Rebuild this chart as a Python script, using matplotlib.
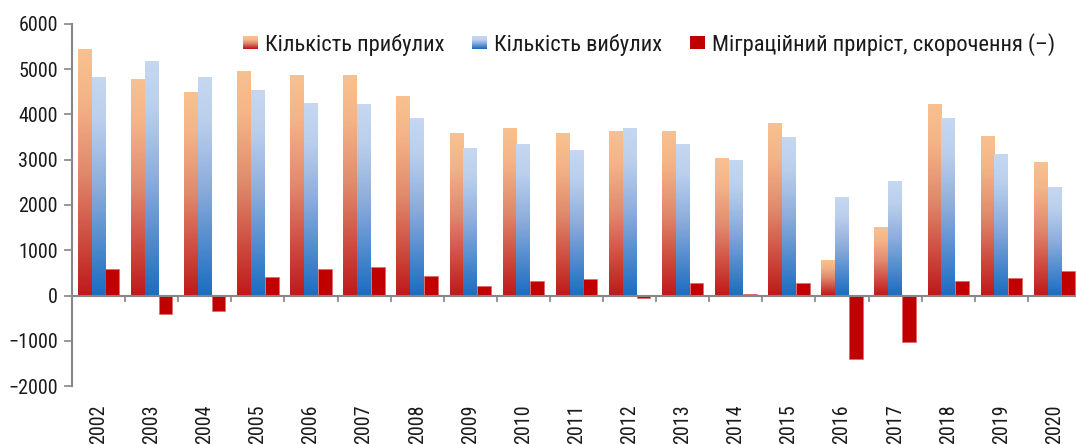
import matplotlib
matplotlib.use("Agg")
import matplotlib.pyplot as plt
import numpy as np
from matplotlib.colors import LinearSegmentedColormap
from matplotlib.legend_handler import HandlerBase
from matplotlib.patches import Rectangle, Patch

plt.rcParams['font.family'] = ['Liberation Sans Narrow', 'Arial Narrow',
                               'Roboto Condensed', 'PT Sans Narrow', 'DejaVu Sans']

# ***** Data *****
years = [str(y) for y in range(2002, 2021)]
arrivals = [5420, 4760, 4470, 4930, 4840, 4840, 4380, 3560, 3670, 3580,
            3620, 3620, 3020, 3800, 760, 1490, 4200, 3510, 2930]
departures = [4800, 5160, 4800, 4510, 4240, 4200, 3890, 3240, 3330, 3200,
              3670, 3330, 2980, 3470, 2160, 2510, 3890, 3110, 2380]
migration = [580, -400, -340, 410, 580, 620, 440, 220, 310, 360,
             -50, 270, 40, 270, -1400, -1020, 310, 380, 540]
labels = ["Кількість прибулих", "Кількість вибулих",
          "Міграційний приріст, скорочення (–)"]
y_ticks = [-2000, -1000, 0, 1000, 2000, 3000, 4000, 5000, 6000]

# gradient colour maps (0 = bottom, 1 = top)
cmap_arr = LinearSegmentedColormap.from_list(
    "arr", [(0.0, "#BE1A1B"), (0.5, "#E08A6C"), (0.8, "#F4B487"), (1.0, "#F9C18F")])
cmap_dep = LinearSegmentedColormap.from_list(
    "dep", [(0.0, "#1B6DC2"), (0.5, "#8EADDB"), (0.8, "#BBCFEC"), (1.0, "#C6D8F0")])
mig_color = "#C00000"
axis_gray = "#868686"


class GradientHandler(HandlerBase):
    def __init__(self, cmap, n=12):
        super().__init__()
        self.cmap = cmap
        self.n = n

    def create_artists(self, legend, orig_handle, xdescent, ydescent,
                       width, height, fontsize, trans):
        arts = []
        for k in range(self.n):
            h = height / self.n
            r = Rectangle((-xdescent, -ydescent + k * h), width, h * 1.05,
                          facecolor=self.cmap(k / (self.n - 1)),
                          edgecolor="none", transform=trans)
            arts.append(r)
        return arts


fig = plt.figure(figsize=(10.76, 4.44), dpi=100)
ax = fig.add_axes([72 / 1076, 58 / 444, 1009 / 1076, 362 / 444])

x = np.arange(len(years))
w = 0.26
grad = np.linspace(0, 1, 256).reshape(-1, 1)

bars_arr = ax.bar(x - w, arrivals, w, color="none", edgecolor="none")
bars_dep = ax.bar(x, departures, w, color="none", edgecolor="none")
for bars, cmap in ((bars_arr, cmap_arr), (bars_dep, cmap_dep)):
    for b in bars:
        x0, y0 = b.get_x(), b.get_y()
        ax.imshow(grad, cmap=cmap, origin="lower", aspect="auto",
                  extent=(x0, x0 + b.get_width(), y0, y0 + b.get_height()),
                  zorder=2)
ax.bar(x + w, migration, w, color=mig_color, edgecolor="#E06060",
       linewidth=0.4, zorder=2)

ax.set_xlim(-0.5, len(years) - 0.5)
ax.set_ylim(-2000, 6000)
ax.set_yticks(y_ticks)
ax.tick_params(axis="y", direction="out", length=6, width=1.2,
               color=axis_gray, labelsize=14.5, labelcolor="#1a1a1a", pad=4)

# zero line with category tick marks
ax.spines["bottom"].set_position(("data", 0))
ax.spines["bottom"].set_color(axis_gray)
ax.spines["bottom"].set_linewidth(1.5)
ax.set_xticks(np.arange(0.5, len(years) - 0.5, 1.0))
ax.tick_params(axis="x", direction="out", length=4.5, width=1.2,
               color=axis_gray, labelbottom=False)
for sp in ("top", "right"):
    ax.spines[sp].set_visible(False)
ax.spines["left"].set_color(axis_gray)
ax.spines["left"].set_linewidth(1.5)

# year labels at the bottom of the plot area
for i, yr in enumerate(years):
    ax.text(i, -0.05, yr, transform=ax.get_xaxis_transform(), rotation=90,
            ha="center", va="top", fontsize=14.5, color="#1a1a1a")

handles = [Patch(), Patch(), Patch(facecolor=mig_color)]
leg = fig.legend(handles, labels, loc="upper left",
                 bbox_to_anchor=(243 / 1076, 1 - 33 / 444), ncol=3,
                 frameon=False, fontsize=16.2, borderpad=0, borderaxespad=0,
                 handlelength=0.66, handleheight=0.52, handletextpad=0.3,
                 columnspacing=1.25,
                 handler_map={handles[0]: GradientHandler(cmap_arr),
                              handles[1]: GradientHandler(cmap_dep)})
for t in leg.get_texts():
    t.set_color("#1a1a1a")

fig.savefig("out.png", dpi=100)
